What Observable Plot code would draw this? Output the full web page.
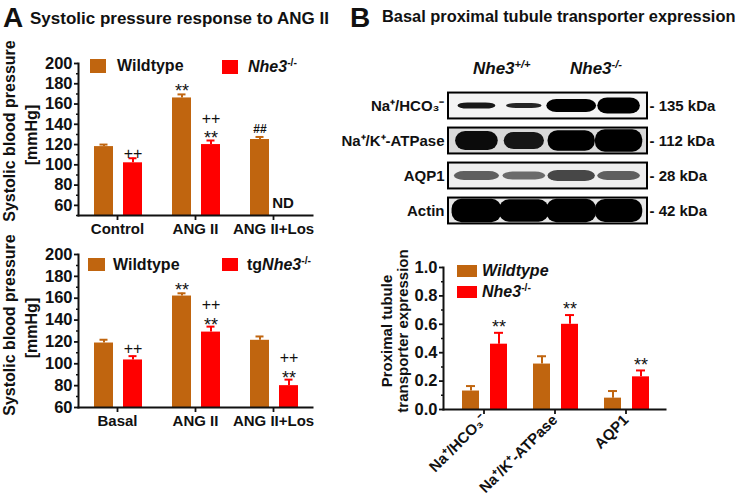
<!DOCTYPE html>
<html>
<head>
<meta charset="utf-8">
<script src="https://cdn.jsdelivr.net/npm/d3@7"></script>
<script src="https://cdn.jsdelivr.net/npm/@observablehq/plot@0.6"></script>
<style>
  body { margin: 0; background: #fff; font-family: "Liberation Sans", Arial, sans-serif; }
  #fig { position: relative; width: 747px; height: 499px; overflow: hidden; background: #fff; color: #111; }
  #fig svg { position: absolute; left: 0; top: 0; }
  .t { position: absolute; white-space: nowrap; font-weight: bold; line-height: 1; color: #111; }
  .sw { position: absolute; }
  .rot { position: absolute; white-space: nowrap; font-weight: bold; line-height: 1.05; text-align: center;
         transform: translate(-50%, -50%) rotate(-90deg); color: #111; }
  sup { font-size: 0.65em; vertical-align: 0.55em; line-height: 0; }
</style>
</head>
<body>
<div id="fig"></div>
<script>
// ---------------- data ----------------
const WT = "#c0650f";
const KO = "#ff0000";

// Panel A, top
const catsA1 = ["Control", "ANG II", "ANG II+Los"];
const wtA1 = [118, 166, 125];
const wtA1Err = [2, 3.5, 2.5];
const koA1 = [102, 120, null];
const koA1Err = [4.5, 4, null];
const wtA1Stars = ["", "**", ""];
const wtA1Hash = ["", "", "##"];
const koA1Stars = ["", "**", ""];
const koA1Plus = ["++", "++", ""];
const koA1ND = ["", "", "ND"];

// Panel A, bottom
const catsA2 = ["Basal", "ANG II", "ANG II+Los"];
const wtA2 = [119, 162, 121.5];
const wtA2Err = [3, 2.5, 3.5];
const koA2 = [103.5, 129, 80];
const koA2Err = [3.5, 5, 5.5];
const wtA2Stars = ["", "**", ""];
const koA2Stars = ["", "**", "**"];
const koA2Plus = ["++", "++", "++"];

const ticksA = [60, 80, 100, 120, 140, 160, 180, 200];
const minorA1 = [50, 70, 90, 110, 130, 150, 170, 190];
const minorA2 = [70, 90, 110, 130, 150, 170, 190];

// Panel B, bottom
const catsB = ["Na⁺/HCO₃⁻", "Na⁺/K⁺-ATPase", "AQP1"];
const wtB = [0.13, 0.32, 0.08];
const wtBErr = [0.035, 0.055, 0.05];
const koB = [0.46, 0.60, 0.23];
const koBErr = [0.08, 0.065, 0.045];
const koBStars = ["**", "**", "**"];
const ticksB = [0, 0.2, 0.4, 0.6, 0.8, 1.0];
const minorB = [0.1, 0.3, 0.5, 0.7, 0.9];

// Panel B, blot
const blotRows = ["Na⁺/HCO₃⁻", "Na⁺/K⁺-ATPase", "AQP1", "Actin"];
const blotSizes = ["- 135 kDa", "- 112 kDa", "- 28 kDa", "- 42 kDa"];
const blotLanes = ["+/+ 1", "+/+ 2", "-/- 1", "-/- 2"];
const blotThick = [[0.24, 0.2, 0.5, 0.62], [0.74, 0.66, 0.8, 0.86], [0.34, 0.3, 0.42, 0.34], [0.9, 0.86, 0.9, 0.88]];
const blotWidth = [[0.8, 0.75, 1.05, 0.9], [0.9, 0.85, 1.0, 1.0], [0.95, 0.9, 1.0, 0.9], [1.05, 1.05, 1.05, 1.0]];
const blotDark = [[0.9, 0.85, 1, 1], [0.95, 0.9, 1, 1], [0.6, 0.55, 0.7, 0.6], [1, 1, 1, 1]];
const blotBg = ["#f4f4f4", "#d9d9d9", "#eeeeee", "#e6e6e6"];

// ---------------- helpers ----------------
const fig = document.getElementById("fig");
const FONT = "'Liberation Sans', Arial, sans-serif";
const INK = "#111";

function rowsOf(p) {
  return p.cats.flatMap((c, i) => [
    {cat: c, s: "wt", v: p.wt[i], e: p.wtErr[i], star: (p.wtStars || [])[i] || "", plus: (p.wtPlus || [])[i] || "", hash: (p.wtHash || [])[i] || "", nd: ""},
    {cat: c, s: "ko", v: p.ko[i], e: p.koErr[i], star: (p.koStars || [])[i] || "", plus: (p.koPlus || [])[i] || "", hash: "", nd: (p.koND || [])[i] || ""}
  ]);
}

function barPanel(p) {
  const rows = rowsOf(p);
  const series = {wt: {color: WT, iL: p.insets[0], iR: p.insets[1]}, ko: {color: KO, iL: p.insets[2], iR: p.insets[3]}};
  const marks = [];
  const txt = {fontWeight: "normal", fill: INK};
  for (const s of ["wt", "ko"]) {
    const {color, iL, iR} = series[s];
    const off = (iL - iR) / 2;
    const d = rows.filter(r => r.s === s && r.v != null);
    const top = r => r.v + r.e;
    marks.push(
      Plot.ruleX(d, {x: "cat", y1: "v", y2: top, stroke: color, strokeWidth: 2, dx: off}),
      Plot.tickY(d, {x: "cat", y: top, stroke: color, strokeWidth: 2, insetLeft: iL + p.capInset, insetRight: iR + p.capInset}),
      Plot.barY(d, {x: "cat", y1: p.base, y2: "v", fill: color, insetLeft: iL, insetRight: iR}),
      // significance marks: "**" alone, "**" with "++" stacked above, "++" alone
      Plot.text(d.filter(r => r.star && !r.plus), {x: "cat", y: top, text: "star", dx: off, dy: p.starDy, fontSize: 18, ...txt}),
      Plot.text(d.filter(r => r.star && r.plus), {x: "cat", y: top, text: "star", dx: off, dy: p.stackStarDy, fontSize: 18, ...txt}),
      Plot.text(d.filter(r => r.star && r.plus), {x: "cat", y: top, text: "plus", dx: off, dy: p.stackStarDy - 20, fontSize: 16, ...txt}),
      Plot.text(d.filter(r => r.plus && !r.star), {x: "cat", y: top, text: "plus", dx: off, dy: p.plusDy, fontSize: 16, ...txt}),
      Plot.text(d.filter(r => r.hash), {x: "cat", y: top, text: "hash", dx: off, dy: -8, fontSize: 12, fontWeight: "bold", fill: INK}),
      Plot.text(rows.filter(r => r.s === s && r.nd), {x: "cat", y: p.base, text: "nd", dx: off - 6, dy: -12, fontSize: 15, fontWeight: "bold", fill: INK})
    );
  }
  return Plot.plot({
    width: 747, height: 499,
    marginLeft: p.left, marginRight: 747 - p.right, marginTop: p.top, marginBottom: 499 - p.bottom,
    style: {background: "transparent", fontFamily: FONT, fontWeight: "bold", color: INK, overflow: "visible"},
    x: {domain: p.cats, paddingInner: 0, paddingOuter: p.padOuter, label: null},
    y: {domain: p.yDomain, label: null},
    marks: [
      ...marks,
      Plot.axisY({ticks: p.minor, tickSize: 2, tickFormat: () => "", label: null, strokeWidth: 1.5}),
      Plot.axisY({ticks: p.ticks, tickSize: 4, tickPadding: 2, tickFormat: p.tickFormat, label: null, fontSize: 16.5, strokeWidth: 1.8}),
      Plot.axisX({tickSize: 5, tickPadding: 3, label: null, fontSize: 15, strokeWidth: 1.8, tickRotate: p.rotate || 0}),
      Plot.frame({anchor: "left", strokeWidth: 2, stroke: INK}),
      Plot.frame({anchor: "bottom", strokeWidth: 2, stroke: INK})
    ]
  });
}

// ---------------- panel A top ----------------
fig.append(barPanel({
  cats: catsA1, wt: wtA1, wtErr: wtA1Err, ko: koA1, koErr: koA1Err,
  wtStars: wtA1Stars, wtHash: wtA1Hash, koStars: koA1Stars, koPlus: koA1Plus, koND: koA1ND,
  yDomain: [50, 200], ticks: ticksA, minor: minorA1, base: 50, tickFormat: d3.format("d"),
  left: 78, right: 312, top: 63, bottom: 215, padOuter: 0,
  insets: [16, 43, 45, 14], capInset: 5.5, starDy: -3.5, stackStarDy: -2, plusDy: -4
}));

// ---------------- panel A bottom ----------------
fig.append(barPanel({
  cats: catsA2, wt: wtA2, wtErr: wtA2Err, ko: koA2, koErr: koA2Err,
  wtStars: wtA2Stars, koStars: koA2Stars, koPlus: koA2Plus,
  yDomain: [60, 200], ticks: ticksA, minor: minorA2, base: 60, tickFormat: d3.format("d"),
  left: 78, right: 312, top: 254, bottom: 407, padOuter: 0,
  insets: [16, 43, 45, 14], capInset: 5.5, starDy: -3.5, stackStarDy: -1.5, plusDy: -7
}));

// ---------------- panel B bars ----------------
fig.append(barPanel({
  cats: catsB, wt: wtB, wtErr: wtBErr, ko: koB, koErr: koBErr,
  koStars: koBStars,
  yDomain: [0, 1], ticks: ticksB, minor: minorB, base: 0, tickFormat: d3.format(".1f"),
  left: 443, right: 665, top: 267, bottom: 409, padOuter: 0.042,
  insets: [14, 40, 42, 12], capInset: 4, starDy: -5.5, stackStarDy: -2, plusDy: -5, rotate: -45
}));

// ---------------- panel B blot ----------------
const bands = blotRows.flatMap((r, i) => blotLanes.map((l, j) => ({
  row: r, lane: l,
  x1: j + 0.5 - blotWidth[i][j] / 2, x2: j + 0.5 + blotWidth[i][j] / 2,
  y1: i + 0.5 - blotThick[i][j] * 0.37, y2: i + 0.5 + blotThick[i][j] * 0.37,
  o: blotDark[i][j]
})));
const blot = Plot.plot({
  width: 747, height: 499,
  marginLeft: 448, marginRight: 747 - 647, marginTop: 88, marginBottom: 499 - 228,
  style: {background: "transparent", fontFamily: FONT, fontWeight: "bold", color: INK, overflow: "visible"},
  x: {domain: [-0.1, 4.1], axis: null},
  y: {domain: [0, 4], reverse: true, axis: null},
  opacity: {domain: [0, 1]},
  marks: [
    Plot.rect(blotRows, {x1: -0.1, x2: 4.1, y1: (d, i) => i + 0.13, y2: (d, i) => i + 0.87, fill: (d, i) => blotBg[i]}),
    Plot.rect(bands, {x1: "x1", x2: "x2", y1: "y1", y2: "y2", fill: "#000", fillOpacity: "o", rx: 10, ariaLabel: "bands"}),
    Plot.rect(blotRows, {x1: -0.1, x2: 4.1, y1: (d, i) => i + 0.13, y2: (d, i) => i + 0.87, fill: "none", stroke: "#000", strokeWidth: 2}),
    Plot.text(blotRows, {x: -0.1, y: (d, i) => i + 0.5, text: d => d, textAnchor: "end", dx: -4, fontSize: 15, fill: INK}),
    Plot.text(blotSizes, {x: 4.1, y: (d, i) => i + 0.5, text: d => d, textAnchor: "start", dx: 2, fontSize: 15, fill: INK})
  ]
});
d3.select(blot).selectAll('g[aria-label="bands"]').style("filter", "blur(2.4px)");
fig.append(blot);

// ---------------- HTML text: titles, legends, axis titles ----------------
function addText(html, left, cy, size, extra = "") {
  const el = document.createElement("div");
  el.className = "t";
  el.style.left = left + "px";
  el.style.top = (cy - size * 0.5) + "px";
  el.style.fontSize = size + "px";
  el.style.cssText += extra;
  el.innerHTML = html;
  fig.append(el);
}
function addSwatch(color, left, top, w, h) {
  const el = document.createElement("div");
  el.className = "sw";
  Object.assign(el.style, {left: left + "px", top: top + "px", width: w + "px", height: h + "px", background: color});
  fig.append(el);
}
function addRot(html, cx, cy, size) {
  const el = document.createElement("div");
  el.className = "rot";
  el.style.left = cx + "px";
  el.style.top = cy + "px";
  el.style.fontSize = size + "px";
  el.innerHTML = html;
  fig.append(el);
}

addText("A", 3, 18, 28);
addText("Systolic pressure response to ANG II", 30, 18, 17);
addText("B", 350, 18, 28);
addText("Basal proximal tubule transporter expression", 382, 16, 16.4);

// legends A top
addSwatch(WT, 90, 59, 16, 14);
addText("Wildtype", 117, 66, 16);
addSwatch(KO, 222, 60, 16, 14);
addText("<i>Nhe3</i><sup>-/-</sup>", 248, 67, 16);
// legends A bottom
addSwatch(WT, 88, 258, 17, 13);
addText("Wildtype", 113, 265, 16);
addSwatch(KO, 222, 258, 16, 13);
addText("tg<i>Nhe3</i><sup>-/-</sup>", 247, 265, 16);
// legend B
addSwatch(WT, 457, 265, 20, 12);
addText("<i>Wildtype</i>", 482, 271, 16);
addSwatch(KO, 457, 286, 20, 12);
addText("<i>Nhe3</i><sup>-/-</sup>", 482, 292, 16);

// blot lane headers
addText("<i>Nhe3</i><sup><i>+/+</i></sup>", 473, 68, 17);
addText("<i>Nhe3</i><sup><i>-/-</i></sup>", 570, 68, 17);

// axis titles
addRot("Systolic blood pressure", 10, 131, 16);
addRot("[mmHg]", 32, 135, 16);
addRot("Systolic blood pressure", 10, 325, 16);
addRot("[mmHg]", 32, 328, 16);
addRot("Proximal tubule<br>transporter expression", 395, 331, 15);
</script>
</body>
</html>
